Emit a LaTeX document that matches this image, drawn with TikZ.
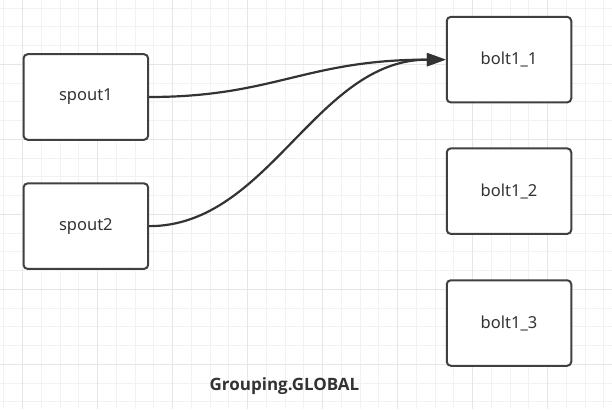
\documentclass[tikz,border=0pt]{standalone}
\usepackage{fontspec}
\setmainfont{Noto Sans}
\newfontfamily\titlefont{Open Sans}
\usetikzlibrary{arrows.meta}
\definecolor{gridminor}{HTML}{F2F2F2}
\definecolor{gridmajor}{HTML}{E6E6E6}
\definecolor{boxline}{HTML}{404040}
\definecolor{txt}{HTML}{333333}
\tikzset{
  box/.style={draw=boxline, line width=2pt, rounded corners=4pt, fill=white,
    minimum width=124.5pt, minimum height=85.5pt, inner sep=0pt,
    font=\fontsize{16.5pt}{19pt}\selectfont, text=txt},
  conn/.style={draw=txt, line width=2.2pt, -{Triangle[length=19pt,width=13pt]}},
  gminor/.style={draw=gridminor, line width=1pt},
  gmajor/.style={draw=gridmajor, line width=1pt},
  title/.style={font=\titlefont\bfseries\fontsize{17pt}{20pt}\selectfont, text=txt}
}
\begin{document}
\begin{tikzpicture}[x=1pt,y=-1pt]
\useasboundingbox (0,0) rectangle (612,409);
\fill[white] (0,0) rectangle (612,409);
\foreach \i in {0,...,32} {\draw[gminor] ({3.95+18.75*\i},0) -- ++(0,409);}
\foreach \i in {0,...,21} {\draw[gminor] (0,{8.05+18.75*\i}) -- ++(612,0);}
\foreach \i in {0,...,7} {\draw[gmajor] ({22.7+75*\i},0) -- ++(0,409);}
\foreach \i in {0,...,4} {\draw[gmajor] (0,{64.3+75*\i}) -- ++(612,0);}
\node[box] (spout1) at (85.85,97) {spout1};
\node[box] (spout2) at (85.85,226.15) {spout2};
\node[box] (bolt11) at (509,59.65) {bolt1\_1};
\node[box] (bolt12) at (509,191.15) {bolt1\_2};
\node[box] (bolt13) at (509,323) {bolt1\_3};
\node[title] (label) at (284.5,386) {Grouping.GLOBAL};
\draw[conn] (spout1.east) .. controls +(125,0) and +(-140,0) .. (bolt11.west);
\draw[conn] (spout2.east) .. controls +(120,0) and +(-130,0) .. (bolt11.west);
\end{tikzpicture}
\end{document}
